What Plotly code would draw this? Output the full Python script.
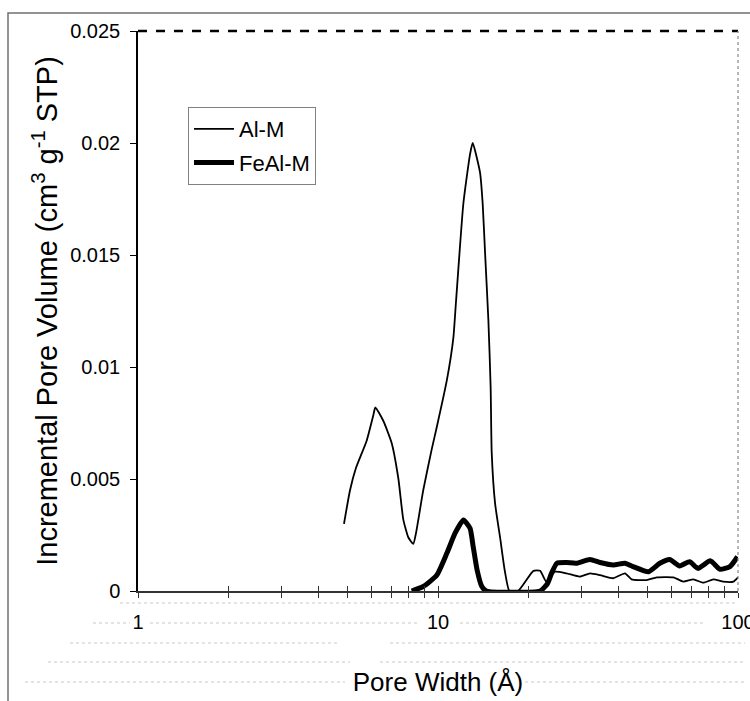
import plotly.graph_objects as go

# ---------------- data ----------------
al_w = [4.86, 5.09, 5.33, 5.78, 6.10, 6.18, 6.57, 7.01, 7.38, 7.66, 7.96, 8.27, 8.45,
        8.93, 9.52, 9.90, 10.7, 11.25, 11.48, 12.15, 12.79, 13.05, 13.8, 14.09, 14.35,
        14.72, 14.98, 15.1, 15.5, 16.1, 16.7, 17.3, 18.5, 20.8, 21.9, 23.0, 24.5, 26.8,
        29.7, 32.1, 34.7, 38.4, 42.0, 44.2, 49.6, 53.6, 60.9, 65.7, 71.0, 76.6, 82.8,
        89.3, 96.5, 100.0]
al_v = [0.0030, 0.0045, 0.0055, 0.0067, 0.0079, 0.0082, 0.0076, 0.0066, 0.0050, 0.0032,
        0.0024, 0.0021, 0.0026, 0.0045, 0.0063, 0.0073, 0.0094, 0.0113, 0.0129, 0.0173,
        0.0195, 0.0200, 0.0187, 0.0173, 0.0151, 0.0121, 0.0091, 0.0062, 0.0039, 0.0024,
        0.0009, 0.0, 0.0, 0.0009, 0.0009, 0.0004, 0.00086, 0.00079, 0.00064, 0.00079,
        0.00071, 0.00057, 0.00079, 0.00052, 0.00049, 0.00061, 0.00061, 0.00042, 0.00052,
        0.00037, 0.00052, 0.00042, 0.00042, 0.00061]

fe_w = [8.17, 8.93, 9.9, 10.7, 11.4, 12.15, 12.79, 13.1, 13.5, 14.0, 14.5, 21.9, 23.2,
        23.9, 24.9, 26.8, 28.9, 32.1, 34.7, 38.4, 42.0, 44.7, 50.3, 54.9, 59.2, 63.9,
        69.0, 73.5, 80.8, 87.1, 94.0, 99.6]
fe_v = [0.0, 0.0002, 0.0007, 0.00168, 0.00258, 0.00317, 0.0028, 0.00198, 0.00094, 0.0002,
        0.0, 0.0, 0.00034, 0.00079, 0.00124, 0.00127, 0.00124, 0.00141, 0.00127, 0.00116,
        0.00124, 0.00109, 0.00086, 0.00124, 0.00141, 0.00112, 0.00131, 0.00101, 0.00135,
        0.00097, 0.00109, 0.00153]

y_tickvals = [0, 0.005, 0.01, 0.015, 0.02, 0.025]
y_ticktext = ["0", "0.005", "0.01", "0.015", "0.02", "0.025"]
x_tickvals = [1, 2, 3, 4, 5, 6, 7, 8, 9, 10, 20, 30, 40, 50, 60, 70, 80, 90, 100]
x_ticktext = ["1", "", "", "", "", "", "", "", "", "10", "", "", "", "", "", "", "", "", "100"]

# ---------------- layout geometry ----------------
W, H = 750, 701
ML, MR, MT, MB = 138, 12, 31, 110
PW, PH = W - ML - MR, H - MT - MB


def px(xp):
    return (xp - ML) / PW


def py(yp):
    return (H - MB - yp) / PH


FONT = "Liberation Sans, Arial, sans-serif"

fig = go.Figure()
fig.add_trace(go.Scatter(x=al_w, y=al_v, mode="lines", name="Al-M", legendgroup="a",
                         line=dict(color="black", width=1.8, shape="spline", smoothing=0.5)))
fig.add_trace(go.Scatter(x=fe_w, y=fe_v, mode="lines", name="FeAl-M", legendgroup="b",
                         line=dict(color="black", width=5, shape="spline", smoothing=0.5)))

shapes = []
# outer frame
shapes.append(dict(type="rect", xref="paper", yref="paper",
                   x0=px(8), x1=px(760), y0=py(712), y1=py(13),
                   line=dict(color="#707070", width=1.5), fillcolor="rgba(0,0,0,0)", layer="below"))
# top border of plot area (dashed) and right (dotted)
shapes.append(dict(type="line", xref="paper", yref="paper", x0=0, x1=1, y0=1, y1=1,
                   line=dict(color="black", width=2.5, dash="dash")))
shapes.append(dict(type="line", xref="paper", yref="paper", x0=1, x1=1, y0=0, y1=1,
                   line=dict(color="#888888", width=1.2, dash="dot")))
# faint dotted artefact lines below the plot
dots = [(603, 120, 735), (623, 93, 130), (623, 150, 420), (623, 460, 705),
        (643, 70, 340), (643, 390, 745), (662, 48, 350), (662, 380, 745),
        (682, 25, 345), (682, 525, 745)]
for yy, x0, x1 in dots:
    shapes.append(dict(type="line", xref="paper", yref="paper", x0=px(x0), x1=px(x1),
                       y0=py(yy), y1=py(yy),
                       line=dict(color="#c8c8c8", width=1, dash="dot"), layer="below"))

fig.update_layout(
    width=W, height=H,
    margin=dict(l=ML, r=MR, t=MT, b=MB, autoexpand=False),
    paper_bgcolor="white", plot_bgcolor="white",
    font=dict(family=FONT, size=20, color="black"),
    showlegend=True,
    legend=dict(x=px(188), y=py(107), xanchor="left", yanchor="top",
                bgcolor="white", bordercolor="#808080", borderwidth=1,
                font=dict(size=22, family=FONT), tracegroupgap=2, itemwidth=40),
    shapes=shapes,
    xaxis=dict(type="log", range=[0, 2], tickmode="array", tickvals=x_tickvals,
               ticktext=x_ticktext, ticks="outside", ticklen=5, tickwidth=1,
               tickcolor="#333333", showline=True, linecolor="#333333", linewidth=2,
               showgrid=False, zeroline=False, ticklabelstandoff=7,
               ticklabeloverflow="allow",
               title=dict(text="Pore Width (Å)", font=dict(size=26, family=FONT), standoff=41)),
    xaxis2=dict(type="log", range=[0, 2], overlaying="x", anchor="y", side="bottom",
                tickmode="array", tickvals=x_tickvals, ticks="inside", ticklen=5,
                tickwidth=1, tickcolor="#333333", showticklabels=False, showgrid=False,
                zeroline=False, showline=False),
    yaxis=dict(range=[0, 0.025], tickmode="array", tickvals=y_tickvals, ticktext=y_ticktext,
               ticks="outside", ticklen=6, tickwidth=1, tickcolor="black",
               showline=True, linecolor="black", linewidth=1.5, showgrid=False,
               zeroline=False, ticklabelstandoff=6,
               title=dict(text="Incremental Pore Volume (cm<sup>3</sup> g<sup>-1</sup> STP)",
                          font=dict(size=29, family=FONT), standoff=4)),
)
fig.add_trace(go.Scatter(x=[1, 100], y=[None, None], xaxis="x2", showlegend=False,
                         hoverinfo="skip"))

fig.write_html("out.html")
